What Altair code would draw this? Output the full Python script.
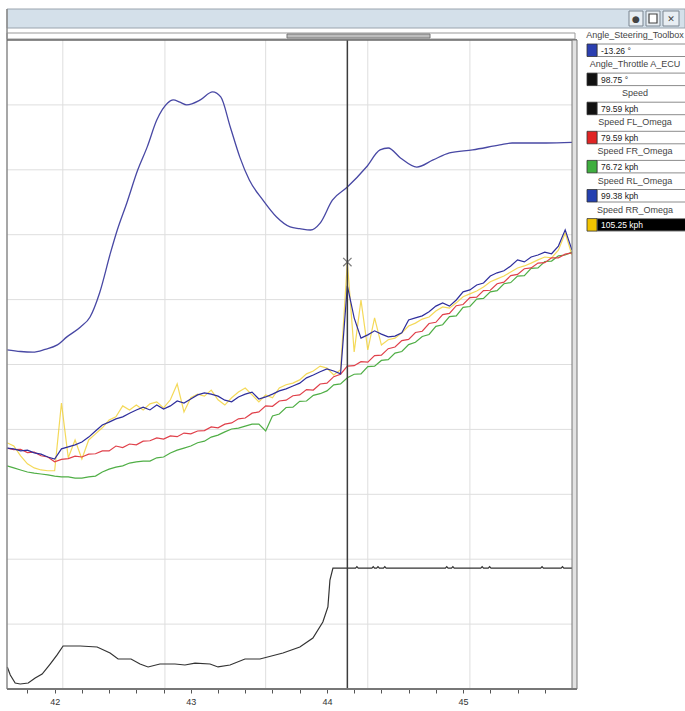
import altair as alt
import numpy as np
import pandas as pd

# ---- logged channels -------------------------------------------------------
# wheel speeds share one 20 Hz time base (s)
speed_t = np.round(41.65 + 0.05 * np.arange(84), 2)

speed_fr = [55.0, 54.5, 54.0, 53.5, 53.2, 53.0, 52.8, 52.5, 52.3, 52.3,
            52.0, 52.0, 52.3, 52.5, 53.5, 54.2, 54.7, 55.0, 55.7, 56.0,
            56.2, 56.2, 57.0, 57.2, 58.2, 58.9, 59.4, 59.9, 60.7, 61.1,
            62.1, 62.6, 63.4, 64.1, 64.3, 64.8, 65.3, 65.3, 63.6, 67.3,
            67.8, 69.4, 69.5, 70.9, 71.0, 72.4, 72.8, 73.5, 75.0, 75.2,
            76.72, 77.6, 77.7, 79.5, 79.6, 81.0, 81.2, 82.8, 83.2, 84.9,
            85.5, 86.9, 87.4, 89.4, 89.8, 91.8, 92.0, 94.1, 94.3, 96.1,
            96.3, 97.9, 98.2, 99.9, 100.2, 101.8, 101.9, 103.7, 103.8, 105.4,
            105.5, 106.8, 107.0, 107.7]

speed_fl = [59.4, 59.0, 59.1, 58.3, 58.4, 57.5, 57.2, 56.0, 56.6, 56.8,
            57.4, 57.2, 57.9, 58.0, 58.7, 58.7, 59.9, 59.5, 60.4, 60.2,
            61.1, 61.2, 61.9, 61.6, 62.4, 62.2, 63.1, 62.9, 63.6, 63.7,
            64.6, 64.4, 65.3, 65.6, 66.6, 66.8, 68.0, 68.3, 69.8, 69.7,
            71.0, 71.2, 72.3, 72.5, 73.8, 73.7, 75.2, 75.4, 77.0, 77.6,
            79.59, 79.7, 80.7, 80.6, 82.2, 82.3, 83.9, 84.3, 85.9, 86.2,
            87.9, 88.2, 90.1, 90.4, 92.3, 92.6, 94.5, 94.8, 96.5, 96.6,
            98.2, 98.3, 99.9, 100.3, 101.9, 102.2, 103.6, 103.8, 105.0, 105.1,
            106.3, 106.3, 107.2, 107.5]

speed_rl = [59.4, 59.2, 58.7, 58.9, 58.2, 57.9, 57.2, 56.7, 59.2, 59.7,
            60.2, 60.9, 62.1, 63.6, 65.1, 65.8, 66.6, 67.1, 68.0, 68.8,
            69.5, 68.8, 70.0, 69.0, 69.8, 71.0, 70.5, 71.5, 72.5, 73.0,
            72.7, 72.2, 71.2, 70.8, 72.0, 72.7, 73.2, 71.5, 72.0, 72.7,
            73.5, 74.0, 74.7, 75.4, 76.7, 77.4, 78.2, 78.9, 78.4, 77.7,
            99.38, 91.5, 86.5, 87.3, 88.3, 87.5, 86.8, 87.0, 87.8, 91.0,
            91.5, 92.0, 93.0, 94.4, 95.2, 94.4, 95.9, 97.9, 98.4, 99.6,
            100.1, 101.8, 102.6, 103.1, 104.3, 105.8, 105.3, 106.5, 107.0, 107.7,
            107.3, 109.2, 113.2, 108.2]

speed_rr = [60.7, 59.9, 57.5, 55.5, 54.5, 54.0, 53.8, 53.8, 70.5, 57.0,
            61.4, 56.7, 61.4, 62.9, 64.4, 66.3, 67.1, 69.8, 68.8, 70.0,
            68.8, 70.3, 70.8, 69.3, 71.3, 75.2, 68.3, 71.8, 72.7, 72.2,
            73.7, 71.3, 70.0, 71.8, 73.2, 74.2, 72.5, 70.8, 72.5, 71.8,
            74.2, 75.0, 75.4, 76.2, 77.7, 78.4, 79.6, 79.1, 77.4, 78.7,
            105.25, 83.1, 95.9, 83.6, 91.5, 84.8, 86.1, 86.5, 87.8, 89.5,
            90.2, 91.2, 91.7, 93.2, 94.2, 93.9, 95.2, 96.7, 97.4, 98.1,
            99.1, 100.4, 101.1, 101.8, 102.8, 103.8, 104.3, 105.0, 105.8, 106.5,
            106.3, 108.2, 112.4, 107.0]

# steering angle (deg)
steer_t = [41.65, 41.75, 41.84, 41.93, 42.02, 42.09, 42.19, 42.26, 42.33, 42.41,
           42.46, 42.53, 42.61, 42.68, 42.75, 42.83, 42.87, 42.92, 42.97, 43.07,
           43.16, 43.22, 43.29, 43.36, 43.43, 43.53, 43.63, 43.73, 43.80, 43.88,
           43.95, 44.04, 44.15, 44.29, 44.39, 44.45, 44.54, 44.66, 44.78, 44.90,
           45.07, 45.27, 45.36, 45.61, 45.80]
steer_deg = [-72.2, -72.8, -73.0, -72.0, -70.4, -67.5, -63.9, -60.3, -51.6, -37.1,
             -28.8, -19.0, -7.1, 1.3, 11.0, 17.2, 18.3, 17.5, 16.5, 18.3,
             21.2, 19.4, 8.5, -2.4, -10.7, -18.0, -24.1, -27.7, -28.3, -28.8,
             -26.3, -18.0, -13.26, -6.0, 0.2, 0.9, -2.7, -6.0, -3.4, -0.9,
             0.2, 2.0, 2.7, 2.7, 2.9]

# throttle angle (deg)
thr_t = [41.652, 41.674, 41.71, 41.747, 41.806, 41.857, 41.908, 41.967, 42.018, 42.062,
         42.187, 42.312, 42.407, 42.466, 42.561, 42.627, 42.686, 42.773, 42.884, 42.957,
         43.031, 43.141, 43.20, 43.288, 43.398, 43.508, 43.677, 43.801, 43.897, 43.970,
         44.007, 44.022, 44.044, 44.21, 44.22, 44.23, 44.33, 44.34, 44.35, 44.365,
         44.375, 44.385, 44.415, 44.425, 44.435, 44.87, 44.88, 44.89, 44.915, 44.925,
         44.935, 45.13, 45.14, 45.15, 45.185, 45.195, 45.205, 45.57, 45.58, 45.59,
         45.72, 45.73, 45.74, 45.80]
thr_deg = [18.0, 11.4, 4.9, 4.1, 4.9, 9.0, 12.2, 20.4, 27.8, 35.1,
           35.1, 34.3, 29.4, 24.5, 24.5, 20.4, 18.0, 20.4, 20.4, 19.6,
           21.2, 20.4, 18.0, 19.6, 24.5, 24.5, 29.4, 34.3, 41.6, 54.7,
           67.0, 89.0, 98.75, 98.75, 100.0, 98.75, 98.75, 100.0, 98.75, 98.75,
           100.0, 98.75, 98.75, 100.0, 98.75, 98.75, 100.0, 98.75, 98.75, 100.0,
           98.75, 98.75, 100.0, 98.75, 98.75, 100.0, 98.75, 98.75, 100.0, 98.75,
           98.75, 100.0, 98.75, 98.75]

# cursor readout
cursor_t = 44.15
legend_names = ["Angle_Steering_Toolbox", "Angle_Throttle A_ECU", "Speed",
                "Speed FL_Omega", "Speed FR_Omega", "Speed RL_Omega", "Speed RR_Omega"]
legend_values = [-13.26, 98.75, 79.59, 79.59, 76.72, 99.38, 105.25]
legend_units = ["°", "°", "kph", "kph", "kph", "kph", "kph"]
legend_colors = ["#2b3fb0", "#111111", "#111111", "#e02424", "#3fae3f", "#2440b0", "#f2c400"]

# grid positions
grid_t = [42.06, 42.81, 43.55, 44.30, 45.05]
grid_kph = [16, 32, 48, 64, 80, 96, 112, 128, 144]
tick_values = [41.8, 42.0, 42.2, 42.4, 42.6, 42.8, 43.0, 43.2, 43.4, 43.6,
               43.8, 44.0, 44.2, 44.4, 44.6, 44.8, 45.0, 45.2, 45.4, 45.6]

# ---- layout ----------------------------------------------------------------
W, H = 565, 649
FONT = "Liberation Sans"

x_enc = alt.X(
    "t:Q",
    scale=alt.Scale(domain=[41.65, 45.80], nice=False, zero=False),
    axis=alt.Axis(
        values=tick_values, title=None, grid=False, domain=False,
        tickSize=4, tickColor="#555", tickWidth=1,
        labelExpr="abs(datum.value - round(datum.value)) < 0.001 ? format(datum.value, 'd') : ''",
        labelFontSize=9, labelColor="#333", labelFont=FONT, labelPadding=4,
        labelFlush=False, labelOverlap=False,
    ),
)

speed_scale = alt.Scale(domain=[0, 160], nice=False, zero=False)


def speed_line(values, color, width=1.2, opacity=1.0):
    df = pd.DataFrame({"t": speed_t, "v": values})
    return alt.Chart(df).mark_line(color=color, strokeWidth=width, opacity=opacity).encode(
        x=x_enc, y=alt.Y("v:Q", scale=speed_scale, axis=None)
    )


one = pd.DataFrame({"a": [0]})


def box(x1, x2, y1, y2, fill, stroke=None, sw=1.0):
    kw = dict(fill=fill, strokeWidth=sw)
    if stroke:
        kw["stroke"] = stroke
    return alt.Chart(one).mark_rect(**kw).encode(
        x=alt.value(x1), x2=alt.value(x2), y=alt.value(y1), y2=alt.value(y2)
    )


def hline(x1, x2, y, color, sw=1.0):
    return alt.Chart(one).mark_rule(color=color, strokeWidth=sw).encode(
        x=alt.value(x1), x2=alt.value(x2), y=alt.value(y)
    )


def vline(x, y1, y2, color, sw=1.0):
    return alt.Chart(one).mark_rule(color=color, strokeWidth=sw).encode(
        x=alt.value(x), y=alt.value(y1), y2=alt.value(y2)
    )


# grid
vgrid = alt.Chart(pd.DataFrame({"t": grid_t})).mark_rule(color="#dedede", strokeWidth=1).encode(
    x=x_enc, y=alt.value(0), y2=alt.value(H)
)
hgrid = alt.Chart(pd.DataFrame({"kph": grid_kph})).mark_rule(color="#dedede", strokeWidth=1).encode(
    y=alt.Y("kph:Q", scale=speed_scale, axis=None), x=alt.value(0), x2=alt.value(W)
)

steer = alt.Chart(pd.DataFrame({"t": steer_t, "v": steer_deg})).mark_line(
    color="#4848a4", strokeWidth=1.3, interpolate="monotone"
).encode(
    x=x_enc, y=alt.Y("v:Q", scale=alt.Scale(domain=[-195, 40], nice=False, zero=False), axis=None)
)

throttle = alt.Chart(pd.DataFrame({"t": thr_t, "v": thr_deg})).mark_line(
    color="#333333", strokeWidth=1.2
).encode(
    x=x_enc, y=alt.Y("v:Q", scale=alt.Scale(domain=[0, 530], nice=False, zero=False), axis=None)
)

rr = speed_line(speed_rr, "#f0cc22", 1.2, 0.75)
fr = speed_line(speed_fr, "#4fae45", 1.2)
fl = speed_line(speed_fl, "#e0404a", 1.2)
rl = speed_line(speed_rl, "#2e2e9c", 1.2)

cursor = alt.Chart(pd.DataFrame({"t": [cursor_t]})).mark_rule(color="#3c3c3c", strokeWidth=1.5).encode(
    x=x_enc, y=alt.value(0), y2=alt.value(H)
)
marker = alt.Chart(pd.DataFrame({"t": [cursor_t], "v": [legend_values[6]]})).mark_point(
    shape="M-1,-1L1,1M-1,1L1,-1", size=70, stroke="#444444", strokeWidth=1.2, filled=False
).encode(x=x_enc, y=alt.Y("v:Q", scale=speed_scale, axis=None))

# window chrome
chrome = [
    box(0, 678, -31, -12, "#d4e0ea", "#9aa4ae"),
    box(0, 568, -7, -1, "#ffffff", "#999999"),
    box(280, 423, -6, -2, "#bdbdbd", "#777777"),
    vline(0, -31, H, "#8a8a8a", 1.5),
    hline(0, 570, 0, "#666666", 1.5),
    box(565, 570, 0, H, "#e2e2e2", "#777777"),
    hline(0, 570, H, "#777777", 2),
    box(622, 636, -29, -14, "#e8eef3", "#7a8590"),
    box(639, 653, -29, -14, "#e8eef3", "#7a8590"),
    box(656, 672, -29, -14, "#e8eef3", "#7a8590"),
    box(642, 650, -26, -17, "#ffffff", "#444444", 1.2),
]
btn_icons = alt.Chart(pd.DataFrame({"s": ["●", "✕"], "x": [629, 664], "y": [-21.5, -21.5]})).mark_text(
    fontSize=9, color="#444444", font="DejaVu Sans"
).encode(x=alt.X("x:Q", scale=None), y=alt.Y("y:Q", scale=None), text="s:N")

# cursor readout panel
ROW = 29.1
leg = pd.DataFrame({
    "name": legend_names,
    "label": [f"{v:.2f} {u}" for v, u in zip(legend_values, legend_units)],
    "color": legend_colors,
})
row = np.arange(len(leg))
leg["label_y"] = -5 + ROW * row
leg["box_y"] = 4 + ROW * row
leg["box_y2"] = 16.5 + ROW * row
leg["text_y"] = 10.5 + ROW * row
leg["fill"] = ["#ffffff"] * 6 + ["#000000"]
leg["tcolor"] = ["#222222"] * 6 + ["#ffffff"]
leg["cx"] = 628.0

leg_names = alt.Chart(leg).mark_text(fontSize=9, color="#444444", font=FONT, align="center").encode(
    x=alt.X("cx:Q", scale=None), y=alt.Y("label_y:Q", scale=None), text="name:N"
)
leg_boxes = alt.Chart(leg).mark_rect(stroke="#8c8c8c", strokeWidth=1).encode(
    x=alt.value(590), x2=alt.value(684), y=alt.Y("box_y:Q", scale=None), y2="box_y2:Q",
    fill=alt.Color("fill:N", scale=None),
)
leg_swatch = alt.Chart(leg).mark_rect(stroke="#333333", strokeWidth=0.8).encode(
    x=alt.value(580), x2=alt.value(590), y=alt.Y("box_y:Q", scale=None), y2="box_y2:Q",
    fill=alt.Color("color:N", scale=None),
)
leg_vals = alt.Chart(leg).mark_text(fontSize=8.5, font=FONT, align="left").encode(
    x=alt.value(594), y=alt.Y("text_y:Q", scale=None), text="label:N",
    color=alt.Color("tcolor:N", scale=None),
)

chart = alt.layer(
    vgrid, hgrid, steer, throttle, rr, fr, fl, rl, cursor, marker,
    *chrome, btn_icons, leg_names, leg_boxes, leg_swatch, leg_vals,
).resolve_scale(y="independent").properties(
    width=W, height=H,
    padding={"left": 7, "top": 40, "right": 113, "bottom": 22},
    autosize=alt.AutoSizeParams(type="none"),
    background="#ffffff",
).configure_view(stroke=None)

chart.save("out.html", embed_options={"renderer": "svg", "actions": False})
